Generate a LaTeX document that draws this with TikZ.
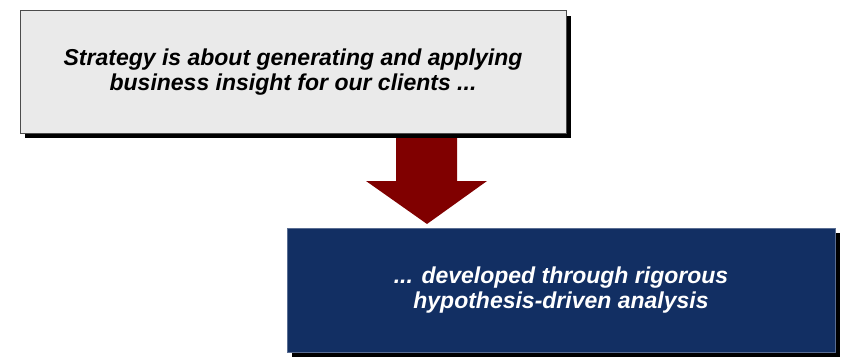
\documentclass[tikz,border=0pt]{standalone}
\usepackage{fontspec}
\setmainfont{Liberation Sans}
\begin{document}
\begin{tikzpicture}[x=1pt,y=-1pt,
  panel/.style={minimum width=546pt, minimum height=122pt, inner sep=0pt, align=center,
    font=\fontsize{23}{25.5}\selectfont\bfseries\itshape},
  lightpanel/.style={panel, fill=boxgray, draw=black!70, line width=1pt, text=black},
  darkpanel/.style={panel, minimum width=548pt, minimum height=124pt, fill=navy, draw=navy!70!white, line width=0.6pt, text=white},
  bigarrow/.style={fill=arrowred, draw=none}
]
\definecolor{boxgray}{HTML}{EAEAEA}
\definecolor{navy}{HTML}{122F63}
\definecolor{arrowred}{HTML}{800000}
\useasboundingbox (0,0) rectangle (847,361);

% drop shadows
\fill[black] (25,16) rectangle (571,138);
\fill[black] (292,233) rectangle (840,357);

% upper statement
\node[lightpanel] (top) at (293,72) {Strategy is about generating and applying\\business insight for our clients ...};

% connecting block arrow
\fill[bigarrow] (396,138) -- (457,138) -- (457,181) -- (487,181) -- (427,224) -- (366,181) -- (396,181) -- cycle;

% lower statement
\node[darkpanel] (bottom) at (561,290) {... developed through rigorous\\hypothesis-driven analysis};
\end{tikzpicture}
\end{document}
